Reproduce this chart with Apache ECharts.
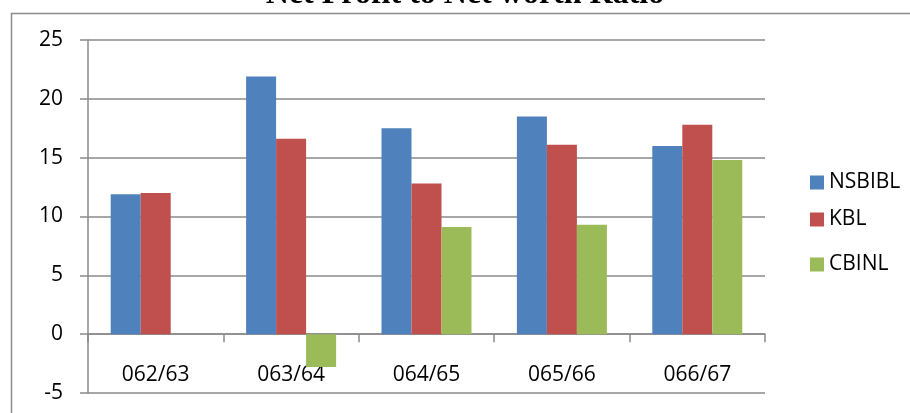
<!DOCTYPE html>
<html>
<head>
<meta charset="utf-8">
<title>Net Profit to Net worth Ratio</title>
<script src="https://cdn.jsdelivr.net/npm/echarts@6/dist/echarts.min.js"></script>
<style>
  html, body { margin: 0; padding: 0; background: #fff; }
  #chart { width: 910px; height: 413px; }
</style>
</head>
<body>
<div id="chart"></div>
<script>
// Fiscal years (Nepali calendar) on the category axis
var years = ['062/63', '063/64', '064/65', '065/66', '066/67'];

// Net profit to net worth ratio (%) per bank
var nsbibl = [11.9, 21.9, 17.5, 18.5, 16.0];
var kbl    = [12.0, 16.6, 12.8, 16.1, 17.8];
var cbinl  = [null, -2.8, 9.1, 9.3, 14.8];

var yTicks = { min: -5, max: 25, step: 5 };

var seriesNames = ['NSBIBL', 'KBL', 'CBINL'];
var seriesColors = ['#4F81BD', '#C0504D', '#9BBB59'];

var FONT = '"Open Sans", "Liberation Sans", sans-serif';
var GRID_COLOR = '#8a8a8a';

var GRID_TOP = 40;
var GRID_HEIGHT = 353;
// distance from the bottom of the plot up to the zero line
var zeroOffset = GRID_HEIGHT * (0 - yTicks.min) / (yTicks.max - yTicks.min);

var chart = echarts.init(document.getElementById('chart'), null, { renderer: 'canvas' });

function legendFor(name, top) {
  return {
    orient: 'vertical',
    left: 805,
    top: top,
    itemWidth: 14,
    itemHeight: 14,
    icon: 'rect',
    data: [name],
    textStyle: { fontFamily: FONT, fontSize: 21, color: '#000' },
    selectedMode: false
  };
}

function barSeries(i, values) {
  return {
    name: seriesNames[i],
    type: 'bar',
    data: values,
    barWidth: 30,
    barGap: '0%',
    itemStyle: { color: seriesColors[i] },
    emphasis: { disabled: true }
  };
}

chart.setOption({
  animation: false,
  backgroundColor: '#fff',
  graphic: [
    {
      type: 'rect',
      shape: { x: 11.5, y: 13.5, width: 1000, height: 500 },
      style: { fill: 'none', stroke: '#8c8c8c', lineWidth: 1.5 },
      silent: true
    },
    {
      type: 'text',
      x: 465,
      y: -5,
      style: {
        text: 'Net Profit to Net worth Ratio',
        font: 'bold 32px "Liberation Serif", "Times New Roman", serif',
        fill: '#000',
        align: 'center',
        verticalAlign: 'middle'
      },
      silent: true
    }
  ],
  legend: [
    legendFor('NSBIBL', 167),
    legendFor('KBL', 204),
    legendFor('CBINL', 249)
  ],
  grid: {
    left: 88,
    top: GRID_TOP,
    width: 677,
    height: GRID_HEIGHT,
    containLabel: false,
    outerBoundsMode: 'none'
  },
  xAxis: {
    type: 'category',
    data: years,
    position: 'bottom',
    offset: -zeroOffset,
    axisLine: { onZero: false, lineStyle: { color: GRID_COLOR, width: 1.5 } },
    axisTick: { show: true, length: 8, lineStyle: { color: GRID_COLOR, width: 1.5 } },
    axisLabel: { show: true, interval: 0, margin: 30, fontFamily: FONT, fontSize: 21, color: '#000' },
    splitLine: { show: false }
  },
  yAxis: {
    type: 'value',
    min: yTicks.min,
    max: yTicks.max,
    interval: yTicks.step,
    axisLine: { show: true, lineStyle: { color: GRID_COLOR, width: 1.5 } },
    axisTick: { show: true, length: 8, lineStyle: { color: GRID_COLOR, width: 1.5 } },
    axisLabel: { margin: 25, fontFamily: FONT, fontSize: 21, color: '#000' },
    splitLine: { show: true, lineStyle: { color: GRID_COLOR, width: 1.5 } }
  },
  series: [
    barSeries(0, nsbibl),
    barSeries(1, kbl),
    barSeries(2, cbinl)
  ]
});
</script>
</body>
</html>
